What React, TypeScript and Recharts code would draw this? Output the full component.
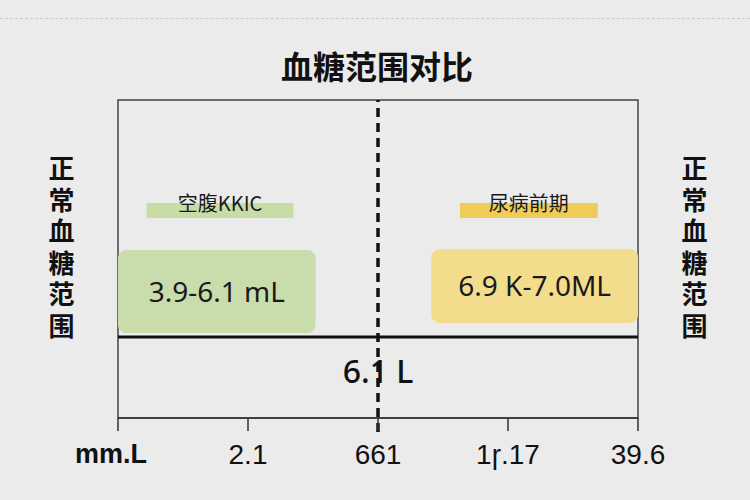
import React from 'react';
import {
  ComposedChart,
  XAxis,
  YAxis,
  ReferenceArea,
  ReferenceLine,
  ReferenceDot,
  Label,
  Rectangle,
} from 'recharts';

// ---- data ----
const chartTitle = '血糖范围对比';
const sideTitle = '正常血糖范围';
const tickValues = [0, 1, 2, 3, 4];
const tickLabels = ['mm.L', '2.1', '661', '1ɼ.17', '39.6'];

const rangeLabels = ['3.9-6.1 mL', '6.9 K-7.0ML'];
const rangeStart = [0, 2.41];
const rangeEnd = [1.52, 4];
const rangeLow = [26.7, 29.9];
const rangeHigh = [52.8, 53.1];

const tagLabels = ['空腹ΚKIC', '尿病前期'];
const tagStart = [0.22, 2.63];
const tagEnd = [1.35, 3.69];
const tagLow = [62.9, 62.9];
const tagHigh = [67.6, 67.6];

const thresholdX = 2;
const thresholdLabel = '6.1 L';
const thresholdLabelY = 14.5;
const baselineY = 25.5;

// ---- styles ----
const rangeFill = ['#c9dcab', '#f3dd8c'];
const tagFill = ['#c8dca6', '#efcb57'];
const BG = '#ebebeb';

const chartData = tickValues.map((v) => ({ x: v, y: 0 }));

const XTick = (props: any) => {
  const { x, y, payload } = props;
  const idx = tickValues.indexOf(payload.value);
  const isFirst = idx === 0;
  return (
    <text
      x={x}
      y={y}
      dx={isFirst ? -7 : 0}
      dy="0.71em"
      textAnchor="middle"
      fill="#111"
      fontSize={isFirst ? 27 : 28}
      fontWeight={isFirst ? 700 : 400}
      fontFamily="'Liberation Sans', Arial, sans-serif"
    >
      {idx >= 0 ? tickLabels[idx] : ''}
    </text>
  );
};

const roundedShape = (p: any) => <Rectangle {...p} radius={8} />;

const SideTitle = ({ left }: { left: number }) => (
  <>
    {sideTitle.split('').map((c, i) => (
      <div
        key={i}
        style={{
          position: 'absolute',
          left,
          top: 155 + i * 31.5,
          width: 40,
          height: 26,
          fontSize: 26,
          lineHeight: '40px',
          writingMode: 'vertical-rl',
          textOrientation: 'upright',
          fontWeight: 700,
          color: '#111',
          fontFamily: "'Noto Sans CJK SC', sans-serif",
        }}
      >
        {c}
      </div>
    ))}
  </>
);

export default function App() {
  return (
    <div
      style={{
        position: 'fixed',
        left: 0,
        top: 0,
        width: 750,
        height: 500,
        background: BG,
        overflow: 'hidden',
      }}
    >
      <div
        style={{
          position: 'absolute',
          left: 0,
          top: 18,
          width: 750,
          borderTop: '1px dashed #cccccc',
        }}
      />
      <div
        style={{
          position: 'absolute',
          left: 0,
          top: 44,
          width: 754,
          textAlign: 'center',
          fontSize: 32,
          fontWeight: 700,
          color: '#111',
          fontFamily: "'Noto Sans CJK SC', sans-serif",
          lineHeight: '42px',
        }}
      >
        {chartTitle}
      </div>
      <SideTitle left={41} />
      <SideTitle left={674} />
      <div style={{ position: 'absolute', left: 0, top: 0 }}>
        <ComposedChart
          width={750}
          height={500}
          data={chartData}
          margin={{ top: 100, left: 118, right: 112, bottom: 22 }}
        >
          <XAxis
            dataKey="x"
            type="number"
            domain={[0, 4]}
            ticks={tickValues}
            interval={0}
            tickSize={13}
            tickMargin={13}
            height={60}
            axisLine={{ stroke: '#333', strokeWidth: 1.5 }}
            tickLine={{ stroke: '#333', strokeWidth: 1.5 }}
            tick={<XTick />}
            allowDataOverflow
          />
          <YAxis type="number" domain={[0, 100]} hide allowDataOverflow />
          <ReferenceArea
            x1={0}
            x2={4}
            y1={0}
            y2={100}
            fill="none"
            fillOpacity={0}
            stroke="#444"
            strokeWidth={1.5}
            ifOverflow="visible"
          />
          {rangeLabels.map((lab, i) => (
            <ReferenceArea
              key={'r' + i}
              x1={rangeStart[i]}
              x2={rangeEnd[i]}
              y1={rangeLow[i]}
              y2={rangeHigh[i]}
              fill={rangeFill[i]}
              fillOpacity={1}
              stroke="none"
              shape={roundedShape}
              ifOverflow="visible"
            >
              <Label
                value={lab}
                position="center"
                fill="#1a1a1a"
                fontSize={28}
                fontFamily="'Noto Sans', sans-serif"
              />
            </ReferenceArea>
          ))}
          {tagLabels.map((lab, i) => (
            <ReferenceArea
              key={'t' + i}
              x1={tagStart[i]}
              x2={tagEnd[i]}
              y1={tagLow[i]}
              y2={tagHigh[i]}
              fill={tagFill[i]}
              fillOpacity={1}
              stroke="none"
              ifOverflow="visible"
            >
              <Label
                value={lab}
                position="top"
                offset={-8}
                fill="#1a1a1a"
                fontSize={20}
                fontFamily="'Noto Sans CJK SC', sans-serif"
              />
            </ReferenceArea>
          ))}
          <ReferenceLine
            y={baselineY}
            stroke="#111"
            strokeWidth={3}
            ifOverflow="visible"
          />
          <ReferenceLine
            segment={[
              { x: thresholdX, y: -4.4 },
              { x: thresholdX, y: 100 },
            ]}
            stroke="#111"
            strokeWidth={3.5}
            strokeDasharray="9 6"
            ifOverflow="visible"
          />
          <ReferenceDot
            x={thresholdX}
            y={thresholdLabelY}
            r={0}
            fill="none"
            stroke="none"
            ifOverflow="visible"
          >
            <Label
              value={thresholdLabel}
              position="center"
              fill="#111"
              fontSize={32}
              fontWeight={500}
              fontFamily="'Noto Sans', sans-serif"
            />
          </ReferenceDot>
        </ComposedChart>
      </div>
    </div>
  );
}
